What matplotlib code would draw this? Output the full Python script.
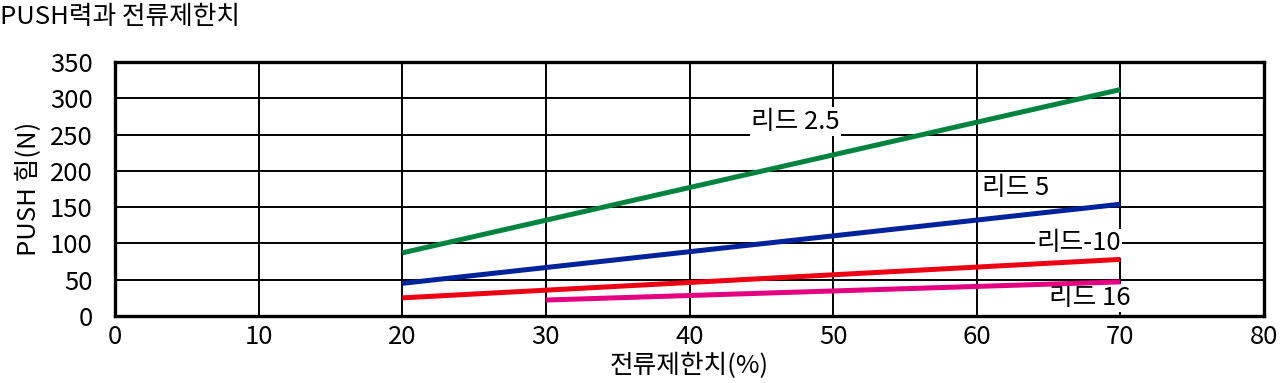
import matplotlib
matplotlib.use("Agg")
import matplotlib.pyplot as plt

plt.rcParams['font.family'] = ['Noto Sans CJK KR', 'DejaVu Sans']

x_ticks = [0, 10, 20, 30, 40, 50, 60, 70, 80]
y_ticks = [0, 50, 100, 150, 200, 250, 300, 350]

lead25_x = [20, 70]
lead25_y = [87, 312]
lead5_x = [20, 70]
lead5_y = [45, 154]
lead10_x = [20, 70]
lead10_y = [25, 78]
lead16_x = [30, 70]
lead16_y = [22, 47]

FS = 18.5
fig = plt.figure(figsize=(12.8, 3.83), dpi=100)
ax = fig.add_axes([115/1280, 1-316/383, (1264-115)/1280, (316-62)/383])

ax.set_xlim(0, 80)
ax.set_ylim(0, 350)
ax.set_xticks(x_ticks)
ax.set_yticks(y_ticks)
ax.grid(True, color='black', linewidth=1.4)
ax.set_axisbelow(True)
for s in ax.spines.values():
    s.set_linewidth(2.4)
    s.set_color('black')
ax.tick_params(length=0, labelsize=FS)
ax.tick_params(axis='y', pad=16)
ax.tick_params(axis='x', pad=6)

ax.plot(lead25_x, lead25_y, color='#00833f', linewidth=3.6, solid_capstyle='butt', zorder=3)
ax.plot(lead5_x, lead5_y, color='#00239c', linewidth=3.6, solid_capstyle='butt', zorder=3)
ax.plot(lead10_x, lead10_y, color='#ee0014', linewidth=3.6, solid_capstyle='butt', zorder=3)
ax.plot(lead16_x, lead16_y, color='#e4007f', linewidth=3.6, solid_capstyle='butt', zorder=3)

kw = dict(fontsize=FS, ha='center', va='center', zorder=2.5,
          bbox=dict(facecolor='white', edgecolor='none', pad=1))
ax.text(47.4, 268, '리드 2.5', **kw)
ax.text(62.7, 176, '리드 5', **kw)
ax.text(67.1, 100, '리드-10', **kw)
ax.text(67.9, 25, '리드 16', **kw)

ax.set_xlabel('전류제한치(%)', fontsize=FS, labelpad=2)
ax.set_ylabel('PUSH 힘(N)', fontsize=FS, labelpad=6)

fig.text(0.0, 1-17/383, 'PUSH력과 전류제한치', fontsize=FS, ha='left', va='center')

fig.savefig('out.png', dpi=100)
